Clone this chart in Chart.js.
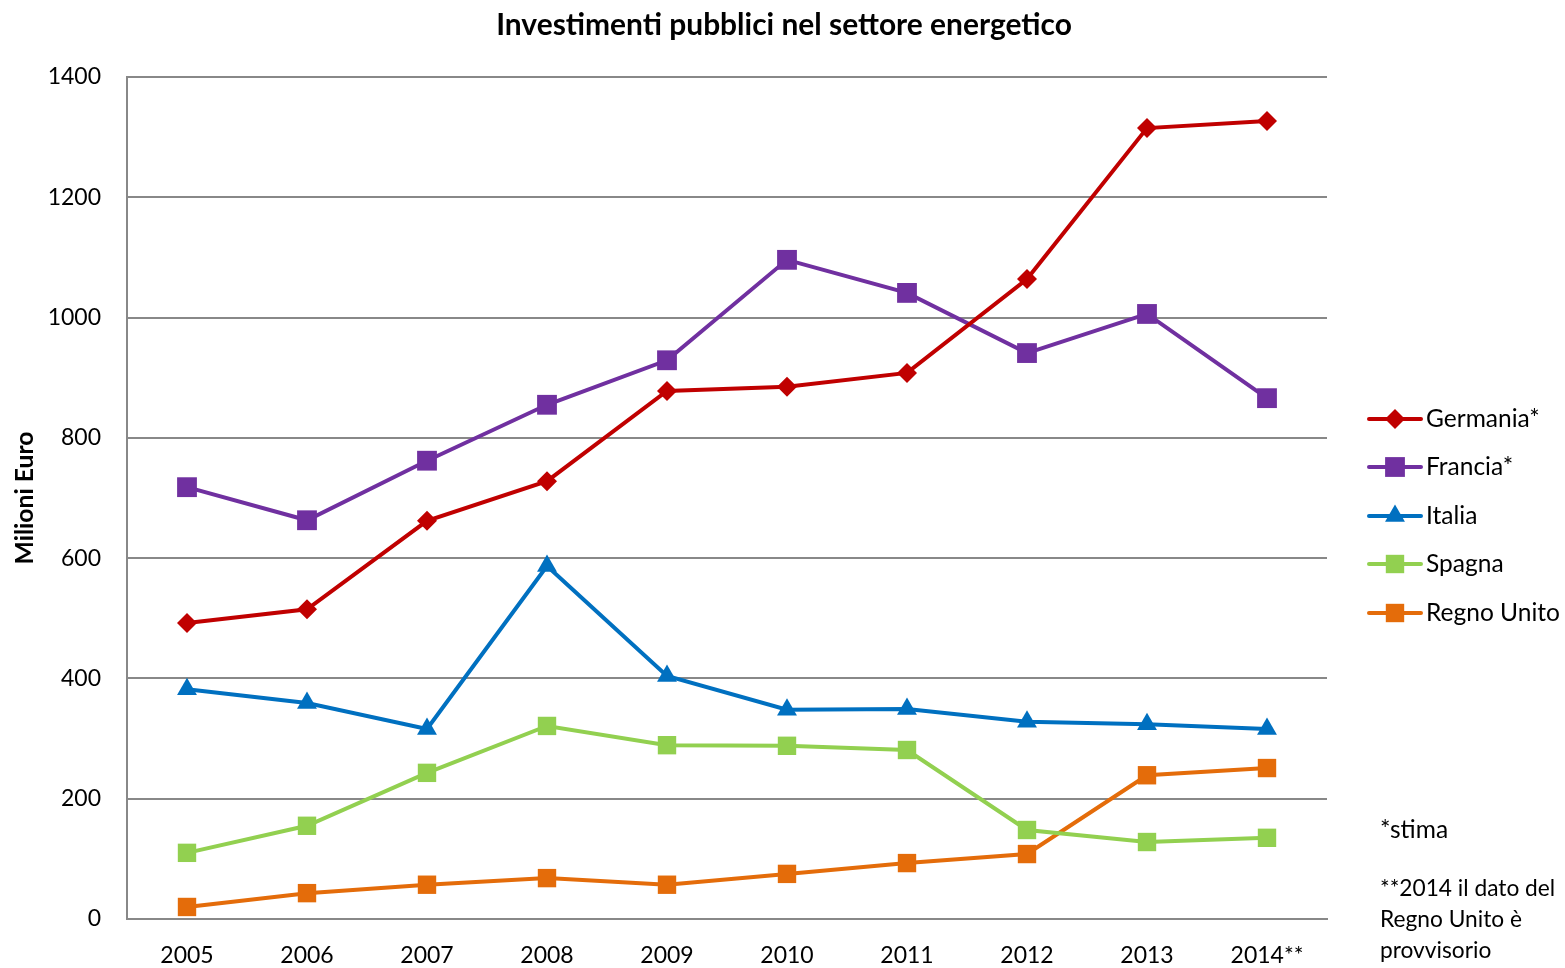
<!DOCTYPE html>
<html>
<head>
<meta charset="utf-8">
<script src="https://cdn.jsdelivr.net/npm/chart.js@4.4.1/dist/chart.umd.min.js"></script>
<style>
html,body{margin:0;padding:0;background:#fff;}
#wrap{width:1565px;height:968px;position:relative;}
</style>
</head>
<body>
<div id="wrap"><canvas id="c" width="1565" height="968"></canvas></div>
<script>
const categories = ['2005','2006','2007','2008','2009','2010','2011','2012','2013','2014**'];
const germania   = [492, 515, 662, 728, 878, 885, 908, 1064, 1315, 1327];
const francia    = [718, 663, 762, 855, 929, 1096, 1041, 941, 1006, 866];
const italia     = [382, 359, 316, 587, 404, 348, 349, 328, 324, 316];
const spagna     = [110, 155, 243, 321, 289, 288, 281, 148, 128, 135];
const regnoUnito = [20, 43, 57, 68, 57, 75, 93, 108, 239, 251];
const seriesNames = ['Germania*','Francia*','Italia','Spagna','Regno Unito'];
const titleText = 'Investimenti pubblici nel settore energetico';
const yTitle = 'Milioni Euro';
const footnotes = ['*stima', '**2014 il dato del', 'Regno Unito è', 'provvisorio'];

const FONT = 'Lato, "Open Sans", sans-serif';
const colors = ['#C00000','#7030A0','#0070C0','#92D050','#E46C0A'];
const styles = ['rectRot','rect','triangle','rect','rect'];
const radii = [10, 14, 11.5, 13, 13];
const seriesData = [germania, francia, italia, spagna, regnoUnito];

// fit a font size so that text spans a target width
function fitSize(ctx, text, weight, targetW){
  ctx.font = weight + ' 20px ' + FONT;
  const w = ctx.measureText(text).width;
  return 20 * targetW / w;
}
const mctx = document.createElement('canvas').getContext('2d');
const titleSize = fitSize(mctx, titleText, 'bold', 576);
const legendSize = fitSize(mctx, 'Regno Unito', 'normal', 134);
const yTitleSize = fitSize(mctx, yTitle, 'bold', 133);
const noteSize = fitSize(mctx, 'Regno Unito è', 'normal', 142);

const datasets = seriesData.map((d,i)=>({
  label: seriesNames[i],
  data: d,
  borderColor: colors[i],
  backgroundColor: colors[i],
  pointBackgroundColor: colors[i],
  pointBorderColor: colors[i],
  borderWidth: 4,
  pointStyle: styles[i],
  pointRadius: radii[i],
  pointHoverRadius: radii[i],
  pointBorderWidth: 0,
  tension: 0,
  clip: false
}));

const customDraw = {
  id: 'customDraw',
  afterDraw(chart){
    const ctx = chart.ctx;
    ctx.save();
    // title
    ctx.fillStyle = '#000';
    ctx.font = 'bold ' + titleSize + 'px ' + FONT;
    ctx.textAlign = 'center';
    ctx.textBaseline = 'middle';
    ctx.fillText(titleText, 784, 25);
    // y title
    ctx.save();
    ctx.translate(25, 498);
    ctx.rotate(-Math.PI/2);
    ctx.font = 'bold ' + yTitleSize + 'px ' + FONT;
    ctx.fillText(yTitle, 0, 0);
    ctx.restore();
    // legend
    const ly = [419, 467, 516, 564, 613];
    chart.data.datasets.forEach((ds,i)=>{
      const y = ly[i];
      ctx.strokeStyle = ds.borderColor;
      ctx.lineWidth = 4;
      ctx.lineCap = 'round';
      ctx.beginPath();
      ctx.moveTo(1369, y); ctx.lineTo(1421, y);
      ctx.stroke();
      ctx.fillStyle = ds.borderColor;
      ctx.strokeStyle = ds.borderColor;
      Chart.helpers.drawPoint(ctx, {pointStyle: ds.pointStyle, rotation: 0, radius: ds.pointRadius, borderWidth: 0}, 1395, y);
      ctx.fillStyle = '#000';
      ctx.font = legendSize + 'px ' + FONT;
      ctx.textBaseline = 'middle';
      ctx.textAlign = 'left';
      ctx.fillText(ds.label, 1426, y);
    });
    // footnotes
    ctx.fillStyle = '#000';
    ctx.textAlign = 'left';
    ctx.textBaseline = 'middle';
    ctx.font = (noteSize * 1.08) + 'px ' + FONT;
    ctx.fillText(footnotes[0], 1380, 830);
    ctx.font = noteSize + 'px ' + FONT;
    ctx.fillText(footnotes[1], 1380, 889);
    ctx.fillText(footnotes[2], 1380, 920);
    ctx.fillText(footnotes[3], 1380, 951);
    ctx.restore();
  }
};

new Chart(document.getElementById('c'), {
  type: 'line',
  data: { labels: categories, datasets },
  options: {
    responsive: false,
    animation: false,
    layout: { padding: { left: 0, right: 238, top: 77, bottom: 0 } },
    plugins: {
      legend: { display: false },
      tooltip: { enabled: false },
      title: { display: false }
    },
    scales: {
      x: {
        offset: true,
        grid: { display: false, drawTicks: false },
        border: { display: true, color: '#888', width: 2 },
        ticks: { color: '#000', padding: 23, font: { family: FONT, size: 23 }, maxRotation: 0 },
        afterFit(s){ s.height = 49; }
      },
      y: {
        min: 0, max: 1400,
        grid: { color: '#888', lineWidth: 2, drawTicks: false },
        border: { display: true, color: '#888', width: 2 },
        ticks: { stepSize: 200, color: '#000', padding: 26, font: { family: FONT, size: 23 }, callback: v => String(v) },
        title: { display: false },
        afterFit(s){ s.width = 127; }
      }
    }
  },
  plugins: [customDraw]
});
</script>
</body>
</html>
